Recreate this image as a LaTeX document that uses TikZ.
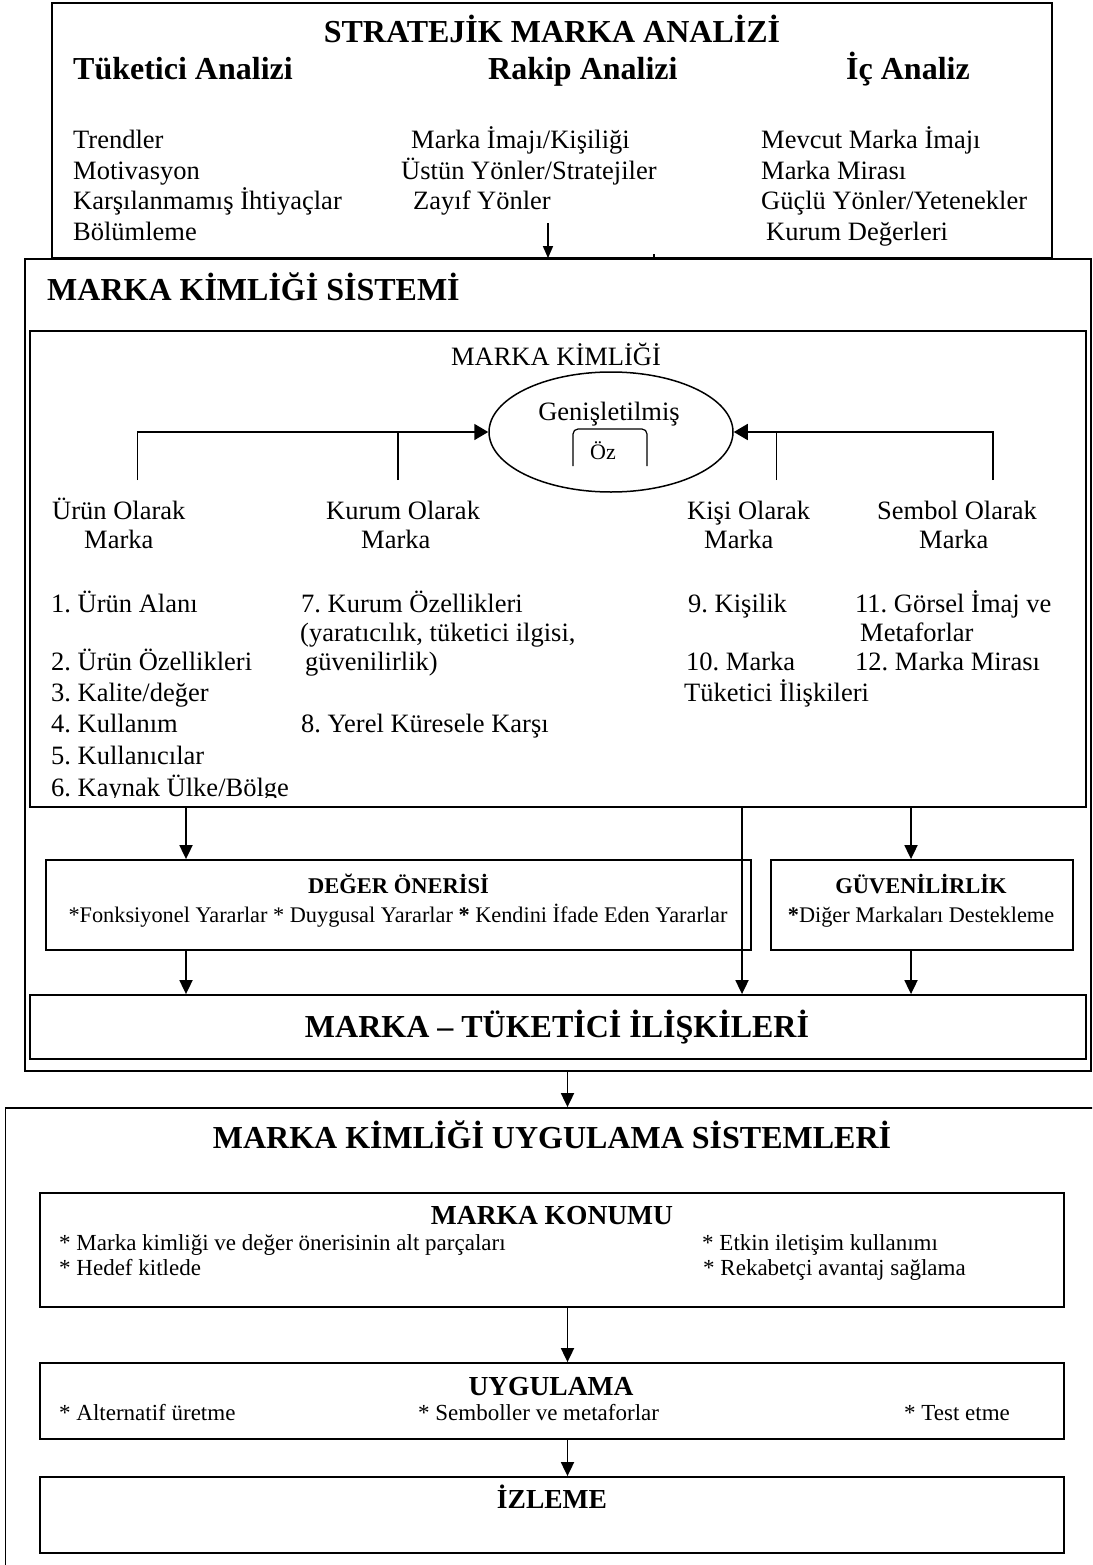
\documentclass[tikz,border=0pt]{standalone}
\usepackage{fontspec}
\setmainfont{Liberation Serif}
\usetikzlibrary{arrows.meta,shapes.geometric}
\frenchspacing
\begin{document}
\begin{tikzpicture}[x=1pt,y=-1pt,
  frame/.style={draw, line width=1.8pt, rectangle, inner sep=0pt},
  big/.style={inner sep=0pt, font=\bfseries\fontsize{32}{36}\selectfont},
  mid/.style={inner sep=0pt, font=\bfseries\fontsize{27.5}{30}\selectfont},
  small/.style={inner sep=0pt, font=\bfseries\fontsize{22.5}{26}\selectfont},
  body/.style={inner sep=0pt, anchor=base west, font=\fontsize{26.5}{30}\selectfont},
  note/.style={inner sep=0pt, font=\fontsize{22.3}{26}\selectfont},
  item/.style={inner sep=0pt, anchor=base west, font=\fontsize{23}{26}\selectfont},
  conn/.style={line width=1.8pt},
  arr/.style={line width=1.8pt, -{Triangle[width=13pt,length=14pt]}},
  arrs/.style={line width=1.5pt, -{Triangle[width=10pt,length=12pt]}},
  arre/.style={line width=1.8pt, -{Triangle[width=16pt,length=14pt]}},
]
\useasboundingbox (0,0) rectangle (1092,1565);
\clip (0,0) rectangle (1092,1565);

% ---------- strategic brand analysis ----------
\node[frame, minimum width=1000pt, minimum height=255pt] (sba) at (552,130.5) {};
\node[big, anchor=base] (sbaT) at (552,43) {STRATEJİK MARKA ANALİZİ};
\node[big, anchor=base west] (tuk) at (73,80) {Tüketici Analizi};
\node[big, anchor=base west] (rak) at (488,80) {Rakip Analizi};
\node[big, anchor=base west] (ic) at (846,80) {İç Analiz};

\node[body] (t1) at (73,149) {Trendler};
\node[body] (t2) at (73,179) {Motivasyon};
\node[body] (t3) at (73,210) {Karşılanmamış İhtiyaçlar};
\node[body] (t4) at (73,240) {Bölümleme};

\node[body] (r1) at (411,149) {Marka İmajı/Kişiliği};
\node[body] (r2) at (401,179) {Üstün Yönler/Stratejiler};
\node[body] (r3) at (413,210) {Zayıf Yönler};

\node[body] (i1) at (761,149) {Mevcut Marka İmajı};
\node[body] (i2) at (761,179) {Marka Mirası};
\node[body] (i3) at (761,210) {Güçlü Yönler/Yetenekler};
\node[body] (i4) at (766,240) {Kurum Değerleri};

% ---------- brand identity system ----------
\node[frame, minimum width=1066pt, minimum height=812pt] (mks) at (558,665) {};
\node[big, anchor=base west] (mksT) at (47,300) {MARKA KİMLİĞİ SİSTEMİ};

\coordinate (xa) at (548,223);
\draw[arrs] (xa) -- (xa |- mks.north);
\coordinate (xt) at (654,254);
\draw[line width=1.5pt] (xt) -- ++(0,5);

\node[frame, minimum width=1056pt, minimum height=476pt] (mk) at (558,569) {};
\node[body, anchor=base] (mkT) at (556,365) {MARKA KİMLİĞİ};

\node[draw, ellipse, line width=1.5pt, minimum width=244pt, minimum height=120pt, inner sep=0pt] (ell) at (611,432) {};
\node[body, anchor=base] (gen) at (609,420) {Genişletilmiş};
\draw[line width=1.2pt, rounded corners=5pt] (573,466) -- (573,429) -- (647,429) -- (647,466);
\node[inner sep=0pt, anchor=base, font=\fontsize{22}{24}\selectfont] (oz) at (603,459) {Öz};

\coordinate (pU) at (137.5,480);
\coordinate (pK) at (398,480);
\coordinate (pKi) at (776.5,480);
\coordinate (pS) at (993,480);
\draw[arre] (pU) |- (ell.west);
\draw[conn] (pK) -- (pK |- ell.west);
\draw[arre] (pS) |- (ell.east);
\draw[conn] (pKi) -- (pKi |- ell.east);

\node[body] (h1a) at (52,519) {Ürün Olarak};
\node[body] (h1b) at (84,548) {Marka};
\node[body] (h2a) at (326,519) {Kurum Olarak};
\node[body] (h2b) at (361,548) {Marka};
\node[body] (h3a) at (687,519) {Kişi Olarak};
\node[body] (h3b) at (704,548) {Marka};
\node[body] (h4a) at (877,519) {Sembol Olarak};
\node[body] (h4b) at (919,548) {Marka};

\node[body] (u1) at (51,612) {1. Ürün Alanı};
\node[body] (u2) at (51,670) {2. Ürün Özellikleri};
\node[body] (u3) at (51,701) {3. Kalite/değer};
\node[body] (u4) at (51,732) {4. Kullanım};
\node[body] (u5) at (51,764) {5. Kullanıcılar};
\begin{scope}
  \clip (40,770) rectangle (400,797);
  \node[body] (u6) at (51,796) {6. Kaynak Ülke/Bölge};
\end{scope}

\node[body] (k7) at (301,612) {7. Kurum Özellikleri};
\node[body] (k7b) at (300,641) {(yaratıcılık, tüketici ilgisi,};
\node[body] (k7c) at (305,670) {güvenilirlik)};
\node[body] (k8) at (301,732) {8. Yerel Küresele Karşı};

\node[body] (p9) at (688,612) {9. Kişilik};
\node[body] (p10) at (686,670) {10. Marka};
\node[body] (p10b) at (684,701) {Tüketici İlişkileri};

\node[body] (s11) at (855,612) {11. Görsel İmaj ve};
\node[body] (s11b) at (860,641) {Metaforlar};
\node[body] (s12) at (855,670) {12. Marka Mirası};

% value proposition and credibility
\node[frame, minimum width=705pt, minimum height=90pt] (deger) at (398.5,905) {};
\node[small, anchor=base] (degerT) at (398.5,893) {DEĞER ÖNERİSİ};
\node[note, anchor=base] (degerL) at (398,922) {*Fonksiyonel Yararlar * Duygusal Yararlar \textbf{*} Kendini İfade Eden Yararlar};

\node[frame, minimum width=302pt, minimum height=90pt] (guven) at (922,905) {};
\node[small, anchor=base] (guvenT) at (921,893) {GÜVENİLİRLİK};
\node[note, anchor=base] (guvenL) at (921,922) {\textbf{*}Diğer Markaları Destekleme};

\node[frame, minimum width=1056pt, minimum height=64pt] (mt) at (558,1027) {};
\node[big, anchor=base] (mtT) at (557,1037) {MARKA – TÜKETİCİ İLİŞKİLERİ};

\coordinate (xL) at (186,0);
\coordinate (xM) at (742,0);
\coordinate (xR) at (911,0);
\draw[arr] (mk.south -| xL) -- (deger.north -| xL);
\draw[arr] (mk.south -| xM) -- (mt.north -| xM);
\draw[arr] (mk.south -| xR) -- (guven.north -| xR);
\draw[arr] (deger.south -| xL) -- (mt.north -| xL);
\draw[arr] (guven.south -| xR) -- (mt.north -| xR);

% ---------- implementation systems ----------
\node[frame, minimum width=1094.5pt, minimum height=472pt] (uyg) at (552.75,1344) {};
\node[big, anchor=base] (uygT) at (552,1148) {MARKA KİMLİĞİ UYGULAMA SİSTEMLERİ};

\node[frame, minimum width=1024pt, minimum height=114pt] (kon) at (552,1250) {};
\node[mid, anchor=base] (konT) at (552,1224) {MARKA KONUMU};
\node[item] (kn1) at (59,1250) {* Marka kimliği ve değer önerisinin alt parçaları};
\node[item] (kn2) at (59,1275) {* Hedef kitlede};
\node[item] (kn3) at (702,1250) {* Etkin iletişim kullanımı};
\node[item] (kn4) at (703,1275) {* Rekabetçi avantaj sağlama};

\node[frame, minimum width=1024pt, minimum height=76pt] (uy) at (552,1401) {};
\node[mid, anchor=base] (uyT) at (551,1395) {UYGULAMA};
\node[item] (uy1) at (59,1420) {* Alternatif üretme};
\node[item] (uy2) at (418,1420) {* Semboller ve metaforlar};
\node[item] (uy3) at (904,1420) {* Test etme};

\node[frame, minimum width=1024pt, minimum height=76pt] (iz) at (552,1515) {};
\node[mid, anchor=base] (izT) at (552,1508) {İZLEME};

\coordinate (xB) at (567.5,0);
\draw[arr] (mks.south -| xB) -- (uyg.north -| xB);
\draw[arr] (kon.south -| xB) -- (uy.north -| xB);
\draw[arr] (uy.south -| xB) -- (iz.north -| xB);
\end{tikzpicture}
\end{document}
